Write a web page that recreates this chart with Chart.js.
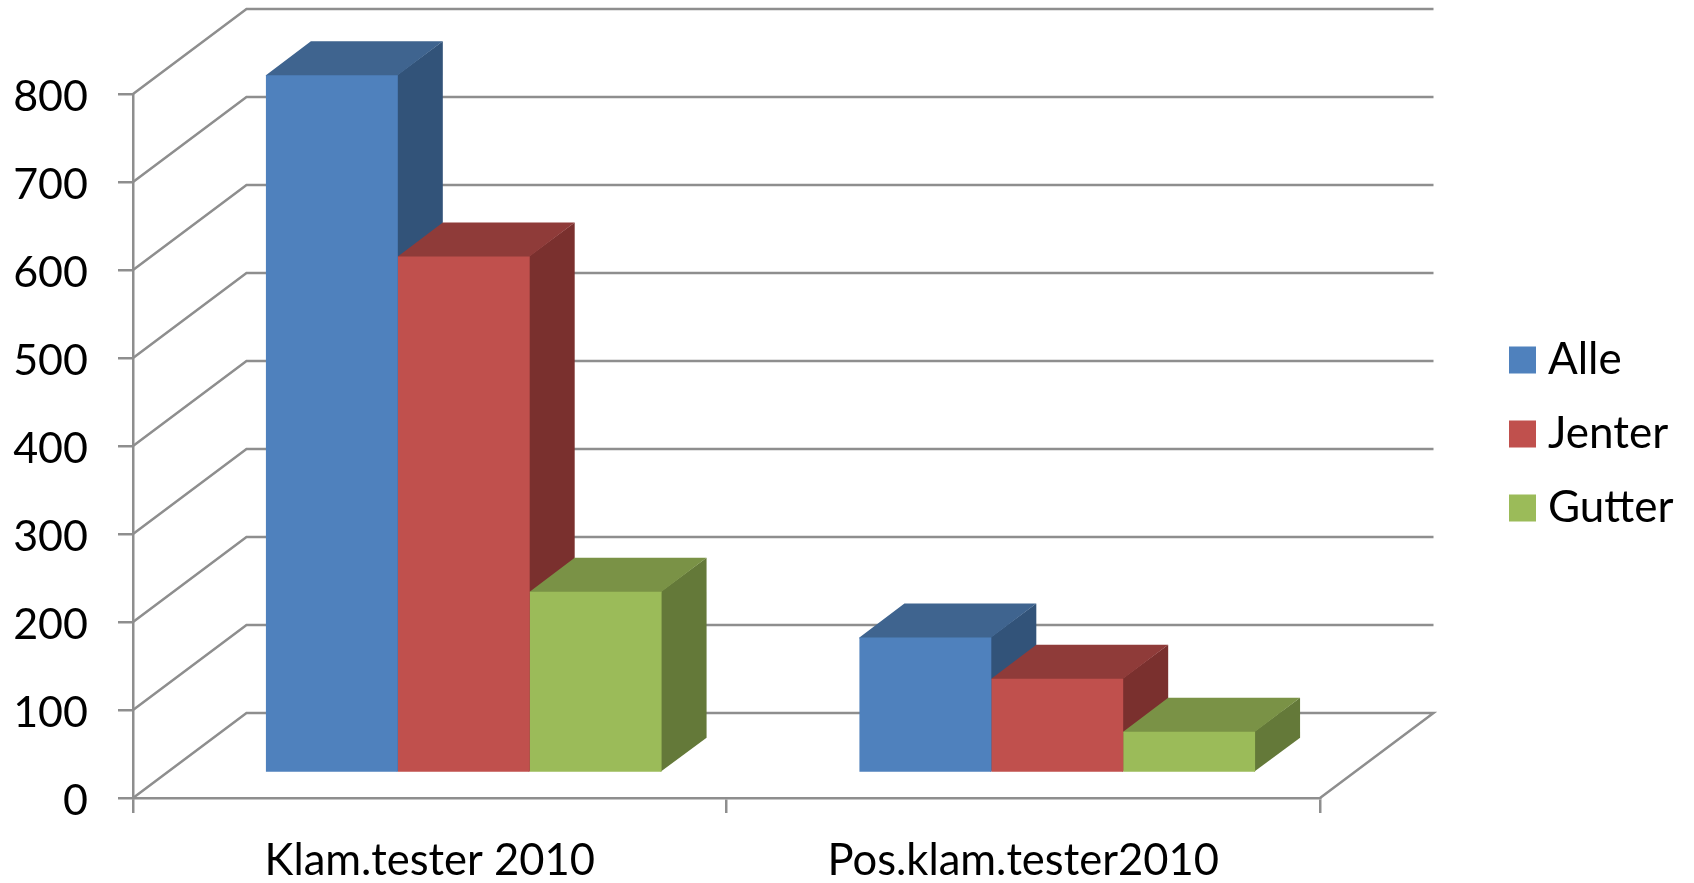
<!DOCTYPE html>
<html>
<head>
<meta charset="utf-8">
<title>Klam.tester 2010</title>
<script src="https://cdn.jsdelivr.net/npm/chart.js@4"></script>
<style>
    html, body { margin: 0; padding: 0; background: #fff; }
    canvas { display: block; }
</style>
</head>
<body>
<canvas id="chart" width="1694" height="883"></canvas>
<script>
const CATEGORIES = ['Klam.tester 2010', 'Pos.klam.tester2010'];
const SERIES_NAMES = ['Alle', 'Jenter', 'Gutter'];
const ALLE = [793, 154];
const JENTER = [587, 107];
const GUTTER = [206, 47];
const Y_MAX = 800;
const Y_STEP = 100;

const FRONT_COLORS = ['#4F81BD', '#C0504D', '#9BBB59'];
const TOP_COLORS = ['#3F648F', '#8F3B39', '#7A9246'];
const SIDE_COLORS = ['#325379', '#7A302E', '#647939'];

const LINE_COLOR = '#8E8E8E';
const FONT_FAMILY = 'Lato, Carlito, sans-serif';

// Depth of the floor, and where the bars stand on it
const WALL_DX = 113.5, WALL_DY = 85;
const BAR_SHIFT_X = 34, BAR_SHIFT_Y = 25;
const BAR_DX = 45, BAR_DY = 34;

function poly(ctx, color, pts) {
    ctx.fillStyle = color;
    ctx.beginPath();
    pts.forEach((p, i) => i ? ctx.lineTo(p[0], p[1]) : ctx.moveTo(p[0], p[1]));
    ctx.closePath();
    ctx.fill();
}

// Back wall, left wall and floor lines
const wallPlugin = {
    id: 'wall',
    beforeDatasetsDraw(chart) {
        const { ctx, scales: { x, y } } = chart;
        const left = x.left, right = x.right;
        ctx.save();
        ctx.strokeStyle = LINE_COLOR;
        ctx.lineWidth = 2.5;
        y.ticks.forEach(t => {
            const py = y.getPixelForValue(t.value);
            ctx.beginPath();
            ctx.moveTo(left, py);
            ctx.lineTo(left + WALL_DX, py - WALL_DY);
            ctx.lineTo(right + WALL_DX, py - WALL_DY);
            if (t.value === 0) ctx.lineTo(right, py);
            ctx.stroke();
        });
        ctx.restore();
    }
};

// Top and side faces, the bars themselves give the front faces
const depthPlugin = {
    id: 'depth',
    beforeDatasetsDraw(chart) {
        const ctx = chart.ctx;
        CATEGORIES.forEach((c, i) => {
            SERIES_NAMES.forEach((s, d) => {
                const bar = chart.getDatasetMeta(d).data[i];
                const x1 = bar.x - bar.width / 2 + BAR_SHIFT_X;
                const x2 = bar.x + bar.width / 2 + BAR_SHIFT_X;
                const top = bar.y - BAR_SHIFT_Y;
                const base = bar.base - BAR_SHIFT_Y;
                poly(ctx, SIDE_COLORS[d], [[x2 - 1, top], [x2 + BAR_DX, top - BAR_DY], [x2 + BAR_DX, base - BAR_DY], [x2 - 1, base]]);
                // 1px under the front face so no seam shows
                poly(ctx, TOP_COLORS[d], [[x1, top + 1], [x1, top], [x1 + BAR_DX, top - BAR_DY], [x2 + BAR_DX, top - BAR_DY], [x2, top], [x2, top + 1]]);
            });
        });
        ctx.save();
        ctx.translate(BAR_SHIFT_X, -BAR_SHIFT_Y);
    },
    afterDatasetsDraw(chart) {
        chart.ctx.restore();
    }
};

const legendPlugin = {
    id: 'sideLegend',
    afterDraw(chart) {
        const ctx = chart.ctx;
        ctx.save();
        ctx.font = '44px ' + FONT_FAMILY;
        ctx.textBaseline = 'middle';
        SERIES_NAMES.forEach((name, i) => {
            const cy = 360 + i * 74;
            ctx.fillStyle = FRONT_COLORS[i];
            ctx.fillRect(1509, cy - 13.5, 27, 27);
            ctx.fillStyle = '#000';
            ctx.fillText(name, 1548, cy);
        });
        ctx.restore();
    }
};

new Chart(document.getElementById('chart'), {
    type: 'bar',
    data: {
        labels: CATEGORIES,
        datasets: [
            { label: SERIES_NAMES[0], data: ALLE, backgroundColor: FRONT_COLORS[0] },
            { label: SERIES_NAMES[1], data: JENTER, backgroundColor: FRONT_COLORS[1] },
            { label: SERIES_NAMES[2], data: GUTTER, backgroundColor: FRONT_COLORS[2] }
        ]
    },
    plugins: [wallPlugin, depthPlugin, legendPlugin],
    options: {
        responsive: false,
        animation: false,
        clip: false,
        categoryPercentage: 2 / 3,
        barPercentage: 1,
        layout: { padding: { top: 94, right: 374, left: 0, bottom: 0 } },
        plugins: { legend: { display: false }, tooltip: { enabled: false } },
        scales: {
            x: {
                afterFit(scale) { scale.height = 85; },
                border: { color: LINE_COLOR, width: 2.5 },
                grid: { color: LINE_COLOR, lineWidth: 2.5, drawOnChartArea: false, tickLength: 15 },
                ticks: { color: '#000', font: { family: FONT_FAMILY, size: 43.5 }, padding: 22, maxRotation: 0 }
            },
            y: {
                min: 0,
                max: Y_MAX,
                afterFit(scale) { scale.width = 133; },
                border: { color: LINE_COLOR, width: 2.5 },
                grid: { color: LINE_COLOR, lineWidth: 2.5, drawOnChartArea: false, tickLength: 15 },
                ticks: { stepSize: Y_STEP, color: '#000', font: { family: FONT_FAMILY, size: 43 }, padding: 30, labelOffset: 3 }
            }
        }
    }
});
</script>
</body>
</html>
